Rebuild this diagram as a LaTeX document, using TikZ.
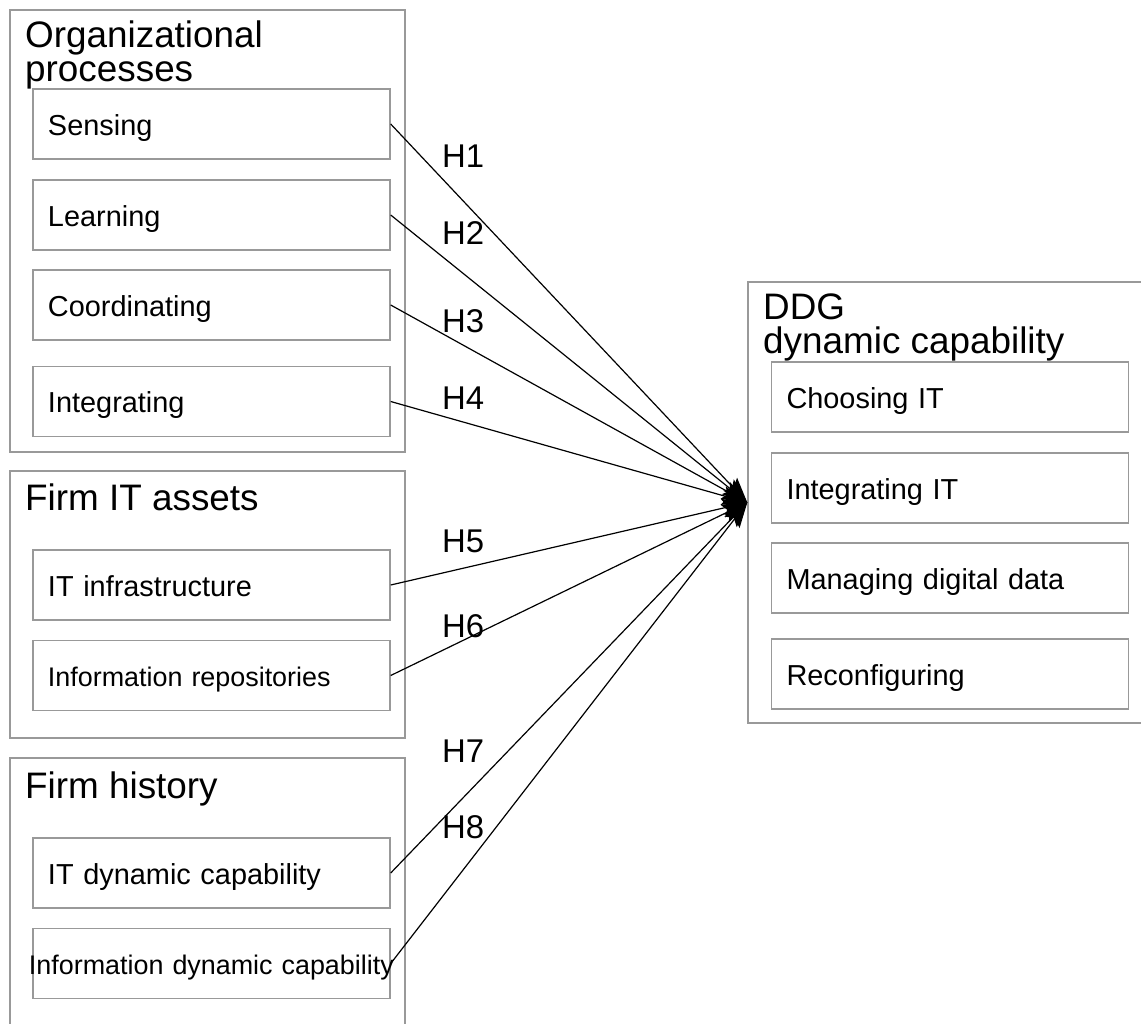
\documentclass[tikz,border=0pt]{standalone}
\usepackage{fontspec}
\setmainfont{Liberation Sans}
\usetikzlibrary{arrows.meta}

\begin{document}
\begin{tikzpicture}[x=1bp,y=-1bp,>={Stealth[length=25bp,width=19bp,inset=5bp]},
	group box/.style={draw=black!40,line width=1.4bp,minimum width=395bp,inner sep=0pt},
	item box/.style={draw=black!40,line width=1.4bp,minimum width=357bp,minimum height=70bp,
		text width=327bp,inner xsep=15bp,inner ysep=0pt,align=left,
		text height=22bp,text depth=0pt,font=\fontsize{29}{33}\selectfont},
	group title/.style={anchor=north west,inner sep=0pt,align=left,font=\fontsize{37}{34}\selectfont},
	hyp/.style={anchor=base west,inner sep=0pt,font=\fontsize{33}{36}\selectfont}]
\clip (0,0) rectangle (1141,1024);
% groups
\node[group box,minimum height=442bp] (orgp) at (207.5,231) {};
\node[group box,minimum height=267bp] (itas) at (207.5,604.5) {};
\node[group box,minimum height=280bp] (hist) at (207.5,898) {};
\node[group box,minimum width=400bp,minimum height=441bp] (ddgc) at (948,502.5) {};
\node[group title] (orgt) at (25,21) {Organizational\\processes};
\node[group title] (itat) at (25,484) {Firm IT assets};
\node[group title] (histt) at (25,772) {Firm history};
\node[group title] (ddgt) at (763,294) {DDG\\dynamic capability};
% items
\node[item box] (sens) at (211.5,124) {Sensing};
\node[item box] (lear) at (211.5,215) {Learning};
\node[item box] (coor) at (211.5,305) {Coordinating};
\node[item box] (intg) at (211.5,401.5) {Integrating};
\node[item box] (itin) at (211.5,585) {IT infrastructure};
\node[item box,font=\fontsize{27}{31}\selectfont] (inre) at (211.5,675.5) {Information repositories};
\node[item box] (itdc) at (211.5,873) {IT dynamic capability};
\node[item box,font=\fontsize{27}{31}\selectfont] (indc) at (211.5,963.5) {\hspace*{-19bp}\mbox{Information dynamic capability}};
\node[item box] (chit) at (950,397) {Choosing IT};
\node[item box] (inti) at (950,488) {Integrating IT};
\node[item box] (mgdd) at (950,578) {Managing digital data};
\node[item box] (reco) at (950,674) {Reconfiguring};
% hypotheses
\node[hyp] (h1) at (442,167) {H1};
\node[hyp] (h2) at (442,244) {H2};
\node[hyp] (h3) at (442,332) {H3};
\node[hyp] (h4) at (442,409) {H4};
\node[hyp] (h5) at (442,552) {H5};
\node[hyp] (h6) at (442,637) {H6};
\node[hyp] (h7) at (442,762) {H7};
\node[hyp] (h8) at (442,838) {H8};
\path[->,line width=1.2bp]
	(sens.east) edge (ddgc.west)
	(lear.east) edge (ddgc.west)
	(coor.east) edge (ddgc.west)
	(intg.east) edge (ddgc.west)
	(itin.east) edge (ddgc.west)
	(inre.east) edge (ddgc.west)
	(itdc.east) edge (ddgc.west)
	(indc.east) edge (ddgc.west);
\end{tikzpicture}
\end{document}
